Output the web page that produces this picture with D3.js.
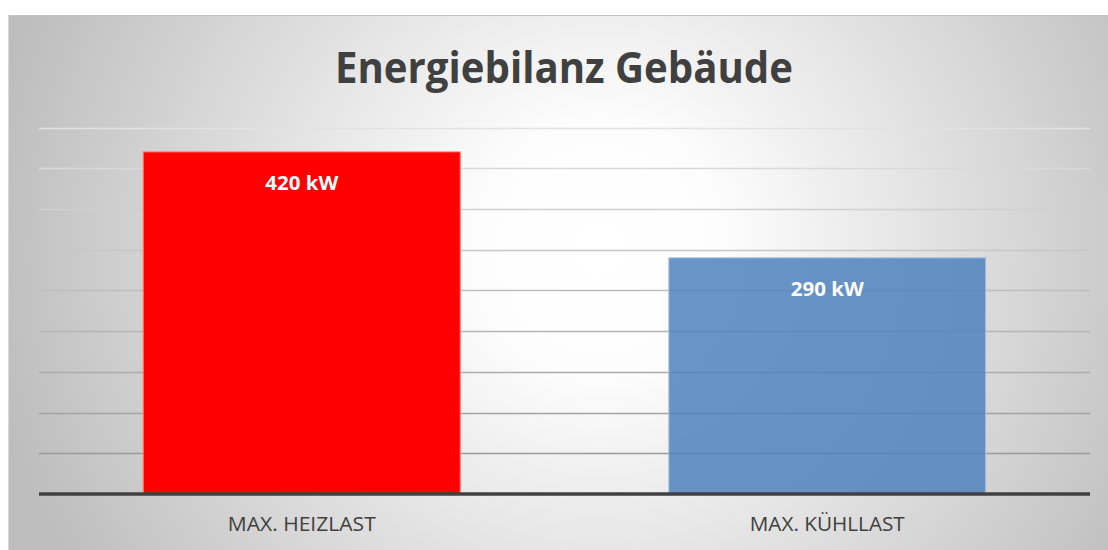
<!DOCTYPE html>
<html>
<head>
<meta charset="utf-8">
<script src="https://cdn.jsdelivr.net/npm/d3@7"></script>
<style>
html,body{margin:0;padding:0;background:#fff;}
svg{display:block;}
</style>
</head>
<body>
<svg id="chart" width="1108" height="550"></svg>
<script>
const titleText = "Energiebilanz Gebäude";
const categories = ["MAX. HEIZLAST", "MAX. KÜHLLAST"];
const values = [420, 290];
const valueLabels = ["420 kW", "290 kW"];
const yTicks = [0, 50, 100, 150, 200, 250, 300, 350, 400, 450];

const W = 1108, H = 550;
const svg = d3.select("#chart");
const defs = svg.append("defs");
const rg = defs.append("radialGradient")
  .attr("id", "bg").attr("gradientUnits", "userSpaceOnUse")
  .attr("cx", 600).attr("cy", 250).attr("r", 620);
rg.append("stop").attr("offset", "0").attr("stop-color", "#ffffff");
rg.append("stop").attr("offset", "0.2").attr("stop-color", "#fdfdfd");
rg.append("stop").attr("offset", "1").attr("stop-color", "#bdbdbd");

svg.append("rect").attr("x", 8).attr("y", 15).attr("width", W - 8).attr("height", H - 15)
  .attr("fill", "url(#bg)");
svg.append("line").attr("x1", 8).attr("x2", W).attr("y1", 15.5).attr("y2", 15.5)
  .attr("stroke", "#c4c4c4").attr("stroke-width", 1);
svg.append("line").attr("x1", 8.5).attr("x2", 8.5).attr("y1", 15).attr("y2", H)
  .attr("stroke", "#d8d8d8").attr("stroke-width", 1);

const left = 39, right = 1090;
const x = d3.scaleBand().domain(categories).range([left, right])
  .paddingInner(0.397).paddingOuter(0.1985);
const y = d3.scaleLinear().domain([0, 450]).range([494, 127.5]);

// gridlines
const gridColor = d3.scaleLinear().domain([50, 450]).range(["#9a9a9a", "#e2e2e2"]);
svg.append("g").selectAll("line").data(yTicks.filter(d => d > 0)).join("line")
  .attr("x1", left).attr("x2", right)
  .attr("y1", d => Math.round(y(d)) + 0.5).attr("y2", d => Math.round(y(d)) + 0.5)
  .attr("stroke", d => gridColor(d)).attr("stroke-width", 1.3);

// bars
const fills = ["#ff0000", "#4f81bd"];
const strokes = ["#ff7070", "#a9c2e2"];
const opac = [1, 0.85];
svg.append("g").selectAll("rect").data(values).join("rect")
  .attr("x", (d, i) => x(categories[i]))
  .attr("y", d => y(d))
  .attr("width", x.bandwidth())
  .attr("height", d => y(0) - y(d))
  .attr("fill", (d, i) => fills[i])
  .attr("fill-opacity", (d, i) => opac[i])
  .attr("stroke", (d, i) => strokes[i])
  .attr("stroke-width", 1);

// baseline
svg.append("line").attr("x1", left).attr("x2", right)
  .attr("y1", y(0)).attr("y2", y(0))
  .attr("stroke", "#404040").attr("stroke-width", 3.6);

// value labels
svg.append("g").selectAll("text").data(values).join("text")
  .attr("x", (d, i) => x(categories[i]) + x.bandwidth() / 2)
  .attr("y", d => y(d) + 38)
  .attr("text-anchor", "middle")
  .attr("font-family", "Open Sans, sans-serif")
  .attr("font-weight", "bold")
  .attr("font-size", 20)
  .attr("fill", "#ffffff")
  .attr("textLength", 73).attr("lengthAdjust", "spacingAndGlyphs")
  .text((d, i) => valueLabels[i]);

// category labels
const catW = [148, 155];
svg.append("g").selectAll("text").data(categories).join("text")
  .attr("x", d => x(d) + x.bandwidth() / 2)
  .attr("y", 531)
  .attr("text-anchor", "middle")
  .attr("font-family", "Open Sans, sans-serif")
  .attr("font-size", 20)
  .attr("fill", "#404040")
  .attr("textLength", (d, i) => catW[i]).attr("lengthAdjust", "spacingAndGlyphs")
  .text(d => d);

// title
svg.append("text")
  .attr("x", 564).attr("y", 82.5)
  .attr("text-anchor", "middle")
  .attr("font-family", "Open Sans, sans-serif")
  .attr("font-weight", "bold")
  .attr("font-size", 43)
  .attr("fill", "#404040")
  .attr("textLength", 458).attr("lengthAdjust", "spacingAndGlyphs")
  .text(titleText);
</script>
</body>
</html>
